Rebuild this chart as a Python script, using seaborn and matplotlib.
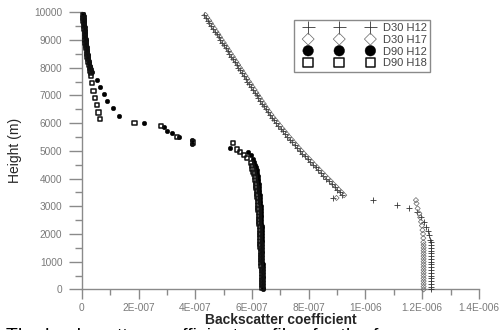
#!/usr/bin/env python3
import matplotlib
matplotlib.use("Agg")
import matplotlib.pyplot as plt
from matplotlib.collections import PathCollection
from matplotlib.legend_handler import HandlerPathCollection
from matplotlib.ticker import MultipleLocator
import numpy as np
import seaborn as sns

# backscatter values are in units of 1E-007, heights in m
d30_h12_height = [9900, 9800, 9700, 9600, 9500, 9400, 9300, 9200, 9100, 9000,
                  8900, 8800, 8700, 8600, 8500, 8400, 8300, 8200, 8100, 8000,
                  7900, 7800, 7700, 7600, 7500, 7400, 7300, 7200, 7100, 7000,
                  6900, 6800, 6700, 6600, 6500, 6400, 6300, 6200, 6100, 6000,
                  5900, 5800, 5700, 5600, 5500, 5400, 5300, 5200, 5100, 5000,
                  4900, 4800, 4700, 4600, 4500, 4400, 4300, 4200, 4100, 4000,
                  3900, 3800, 3700, 3600, 3500, 3400,
                  3300, 3220, 3040, 2920, 2780, 2620, 2440, 2260, 2100, 1960, 1800,
                  1700, 1600, 1500, 1400, 1300, 1200, 1100, 1000, 900, 800,
                  700, 600, 500, 400, 300, 200, 100, 0]
d30_h12_beta = [4.31, 4.37, 4.44, 4.50, 4.56, 4.62, 4.69, 4.75, 4.82, 4.88,
                4.94, 5.01, 5.07, 5.14, 5.20, 5.26, 5.33, 5.39, 5.46, 5.52,
                5.58, 5.65, 5.71, 5.78, 5.84, 5.90, 5.97, 6.03, 6.10, 6.16,
                6.22, 6.29, 6.35, 6.42, 6.48, 6.55, 6.62, 6.69, 6.77, 6.85,
                6.93, 7.01, 7.09, 7.17, 7.25, 7.34, 7.42, 7.51, 7.59, 7.68,
                7.77, 7.86, 7.96, 8.05, 8.14, 8.24, 8.33, 8.43, 8.52, 8.62,
                8.72, 8.81, 8.91, 9.00, 9.10, 9.19,
                8.85, 10.27, 11.10, 11.54, 11.80, 11.95, 12.06, 12.13, 12.20, 12.25, 12.29,
                12.30, 12.30, 12.31, 12.31, 12.31, 12.31, 12.32, 12.32, 12.32, 12.32,
                12.32, 12.32, 12.32, 12.32, 12.32, 12.32, 12.32, 12.32]

d30_h17_height = [9900, 9800, 9700, 9600, 9500, 9400, 9300, 9200, 9100, 9000,
                  8900, 8800, 8700, 8600, 8500, 8400, 8300, 8200, 8100, 8000,
                  7900, 7800, 7700, 7600, 7500, 7400, 7300, 7200, 7100, 7000,
                  6900, 6800, 6700, 6600, 6500, 6400, 6300, 6200, 6100, 6000,
                  5900, 5800, 5700, 5600, 5500, 5400, 5300, 5200, 5100, 5000,
                  4900, 4800, 4700, 4600, 4500, 4400, 4300, 4200, 4100, 4000,
                  3900, 3800, 3700, 3600, 3500, 3400,
                  3300, 3220, 3100, 2920, 2740, 2600, 2440, 2300, 2140, 2000, 1850,
                  1700, 1600, 1500, 1400, 1300, 1200, 1100, 1000, 900, 800,
                  700, 600, 500, 400, 300, 200, 100, 0]
d30_h17_beta = [4.36, 4.42, 4.49, 4.55, 4.61, 4.68, 4.74, 4.81, 4.87, 4.93,
                5.00, 5.06, 5.13, 5.19, 5.25, 5.32, 5.38, 5.45, 5.51, 5.57,
                5.64, 5.70, 5.77, 5.83, 5.89, 5.96, 6.02, 6.09, 6.15, 6.21,
                6.28, 6.34, 6.41, 6.47, 6.54, 6.61, 6.68, 6.75, 6.83, 6.91,
                6.99, 7.07, 7.15, 7.23, 7.31, 7.40, 7.48, 7.57, 7.65, 7.74,
                7.83, 7.92, 8.02, 8.11, 8.20, 8.30, 8.39, 8.49, 8.58, 8.68,
                8.78, 8.87, 8.97, 9.06, 9.16, 9.25,
                8.98, 11.78, 11.80, 11.84, 11.90, 11.93, 11.96, 11.99, 12.01, 12.03, 12.04,
                12.04, 12.05, 12.05, 12.05, 12.05, 12.05, 12.05, 12.05, 12.05, 12.05,
                12.05, 12.05, 12.05, 12.05, 12.05, 12.05, 12.05, 12.05]

d90_h12_height = [9950, 9850, 9750, 9650, 9550, 9450, 9350, 9250, 9150, 9050,
                  8950, 8850, 8750, 8650, 8550, 8450, 8350, 8250, 8150, 8050,
                  7950, 7850,
                  7560, 7290, 7040, 6800, 6530, 6270, 6010, 5850, 5730, 5630,
                  5510, 5390, 5250, 5110, 4970, 4850, 4700,
                  4600, 4500, 4400, 4300, 4200, 4100, 4000, 3900, 3800, 3700,
                  3600, 3500, 3400, 3300, 3200, 3100, 3000, 2900, 2800, 2700,
                  2600, 2500, 2400, 2300, 2200, 2100, 2000, 1900, 1800, 1700,
                  1600, 1500, 1400, 1300, 1200, 1100, 1000, 900, 800, 700,
                  600, 500, 400, 300, 200, 100, 0]
d90_h12_beta = [0.05, 0.06, 0.07, 0.08, 0.09, 0.10, 0.10, 0.11, 0.12, 0.13,
                0.14, 0.15, 0.17, 0.18, 0.19, 0.21, 0.22, 0.24, 0.27, 0.29,
                0.32, 0.35,
                0.53, 0.65, 0.79, 0.90, 1.10, 1.31, 2.18, 2.88, 3.00, 3.18,
                3.41, 3.89, 3.90, 5.24, 5.86, 5.95, 6.03,
                6.08, 6.12, 6.14, 6.16, 6.18, 6.20, 6.21, 6.22, 6.23, 6.24,
                6.25, 6.26, 6.27, 6.28, 6.29, 6.29, 6.30, 6.31, 6.31, 6.32,
                6.32, 6.33, 6.33, 6.34, 6.34, 6.35, 6.35, 6.35, 6.36, 6.36,
                6.36, 6.36, 6.37, 6.37, 6.37, 6.37, 6.37, 6.38, 6.38, 6.38,
                6.38, 6.38, 6.38, 6.38, 6.38, 6.38, 6.38]

d90_h18_height = [9900, 9800, 9700, 9600, 9500, 9400, 9300, 9200, 9100, 9000,
                  8900, 8800, 8700, 8600, 8500, 8400, 8300, 8200, 8100, 8000,
                  7900, 7800, 7700,
                  7440, 7170, 6900, 6650, 6380, 6140, 5990, 5900, 5490, 5300,
                  5270, 5050, 4970, 4850, 4730, 4550,
                  4450, 4350, 4250, 4150, 4050, 3950, 3850, 3750, 3650, 3550,
                  3450, 3350, 3250, 3150, 3050, 2950, 2850, 2750, 2650, 2550,
                  2450, 2350, 2250, 2150, 2050, 1950, 1850, 1750, 1650, 1550,
                  1450, 1350, 1250, 1150, 1050, 950, 850, 750, 650, 550,
                  450, 350, 250, 150, 50]
d90_h18_beta = [0.04, 0.05, 0.06, 0.07, 0.08, 0.09, 0.10, 0.11, 0.11, 0.12,
                0.13, 0.14, 0.16, 0.17, 0.18, 0.20, 0.21, 0.23, 0.25, 0.28,
                0.30, 0.32, 0.33,
                0.35, 0.41, 0.45, 0.53, 0.59, 0.65, 1.86, 2.80, 3.36, 3.92,
                5.32, 5.48, 5.59, 5.71, 5.83, 5.95,
                5.99, 6.02, 6.05, 6.08, 6.10, 6.12, 6.14, 6.15, 6.16, 6.17,
                6.18, 6.19, 6.20, 6.21, 6.22, 6.23, 6.23, 6.24, 6.25, 6.25,
                6.26, 6.26, 6.27, 6.27, 6.28, 6.28, 6.29, 6.29, 6.30, 6.30,
                6.31, 6.31, 6.32, 6.32, 6.33, 6.33, 6.33, 6.34, 6.34, 6.34,
                6.35, 6.35, 6.35, 6.35, 6.35]

xtick_values = [0, 2e-7, 4e-7, 6e-7, 8e-7, 1e-6, 1.2e-6, 1.4e-6]
xtick_labels = ["0", "2E-007", "4E-007", "6E-007", "8E-007", "1E-006", "1.2E-006", "1.4E-006"]
ytick_values = [0, 1000, 2000, 3000, 4000, 5000, 6000, 7000, 8000, 9000, 10000]

caption = "The backscatter coefficient profiles for the four cases"

sns.set_style("ticks")
plt.rcParams['font.family'] = ['Liberation Sans', 'DejaVu Sans']

grey = "#8a8a8a"

fig = plt.figure(figsize=(5.02, 3.30), dpi=100)
ax = fig.add_axes([0.163, 0.123, 0.791, 0.840])

series = [
	("D30 H12", d30_h12_beta, d30_h12_height,
	 dict(marker="+", s=16, color="#333333", linewidth=0.6)),
	("D30 H17", d30_h17_beta, d30_h17_height,
	 dict(marker="D", s=7, color="#777777", facecolor="none", edgecolor="#666666", linewidth=0.5)),
	("D90 H12", d90_h12_beta, d90_h12_height,
	 dict(marker="o", s=11, color="black", edgecolor="black", linewidth=0.3)),
	("D90 H18", d90_h18_beta, d90_h18_height,
	 dict(marker="s", s=9, color="black", facecolor="none", edgecolor="#111111", linewidth=1.1)),
]

for name, beta, height, style in series:
	sns.scatterplot(x=np.array(beta) * 1e-7, y=height, ax=ax, label=name,
					clip_on=False, zorder=3, **style)

ax.set_xlim(0, 1.4e-6)
ax.set_ylim(0, 10000)
ax.set_xticks(xtick_values, xtick_labels)
ax.set_yticks(ytick_values)
ax.xaxis.set_minor_locator(MultipleLocator(1e-7))
ax.yaxis.set_minor_locator(MultipleLocator(500))

sns.despine(ax=ax)
for side in ["left", "bottom"]:
	ax.spines[side].set_color(grey)
	ax.spines[side].set_linewidth(1.0)

ax.tick_params(axis="both", which="both", colors=grey, width=1.0, labelsize=7.3, labelcolor="#7a7a7a")
ax.tick_params(axis="y", which="major", length=9.5, pad=4.5)
ax.tick_params(axis="y", which="minor", length=5)
ax.tick_params(axis="x", which="major", length=7, pad=2.5)
ax.tick_params(axis="x", which="minor", length=4)

ax.set_xlabel("Backscatter coefficient", fontsize=10, fontweight="bold", labelpad=0.5)
ax.set_ylabel("Height (m)", fontsize=10, labelpad=9)

leg = ax.legend(loc="upper left", bbox_to_anchor=(0.535, 0.972), borderaxespad=0,
				scatterpoints=3, scatteryoffsets=[0.5], markerscale=2.3,
				handler_map={PathCollection: HandlerPathCollection(marker_pad=0.95)},
				fontsize=8, labelcolor="#444444", frameon=True, fancybox=False,
				framealpha=1, edgecolor=grey, handlelength=7.5, handletextpad=0.15,
				labelspacing=0.15, borderpad=0.3)
leg.get_frame().set_linewidth(1.0)

# figure caption below the chart, cut off by the bottom edge
fig.text(0.012, -0.034, caption, fontsize=14, va="baseline", ha="left", color="black")

fig.savefig("out.png", dpi=100)
